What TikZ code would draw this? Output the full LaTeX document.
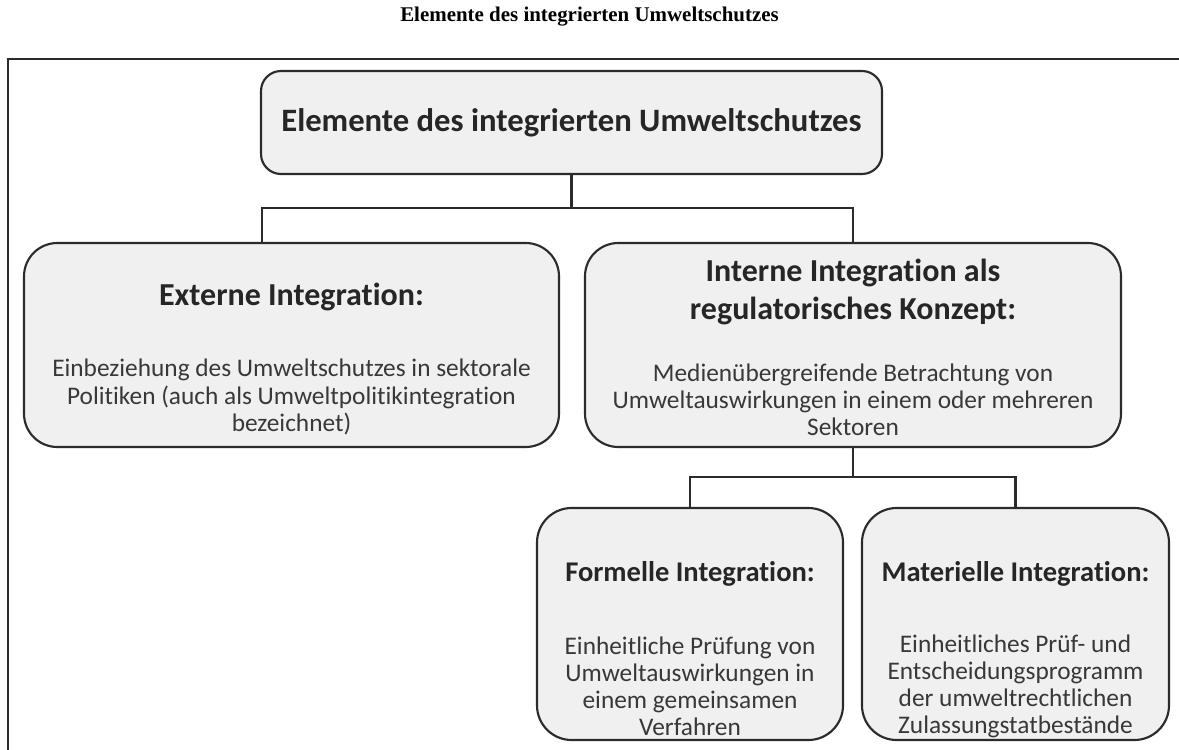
\documentclass[tikz,border=0pt]{standalone}
\usepackage{fontspec}
\setmainfont{Carlito}[Ligatures={NoCommon,NoRequired,NoContextual}]
\newfontfamily\timesfont{Liberation Serif}
\definecolor{boxfill}{HTML}{F0F0F0}
\definecolor{linecol}{HTML}{2B2B2B}
\definecolor{titlecol}{HTML}{262626}
\definecolor{bodycol}{HTML}{383838}
\tikzset{
  box/.style={draw=linecol, line width=1.6pt, fill=boxfill, rounded corners=#1, inner sep=0pt},
  conn/.style={draw=linecol, line width=1.6pt},
  frameline/.style={draw=linecol, line width=1.9pt},
  toptext/.style={text=titlecol, font=\fontsize{24.5pt}{29pt}\selectfont\bfseries, inner sep=0pt},
  ttl/.style={text=titlecol, font=\fontsize{24pt}{29pt}\selectfont\bfseries, align=center, inner sep=0pt},
  ttlsmall/.style={text=titlecol, font=\fontsize{21.4pt}{26pt}\selectfont\bfseries, align=center, inner sep=0pt},
  body/.style={text=bodycol, font=\fontsize{19pt}{20.3pt}\selectfont, align=center, inner sep=0pt},
}
\begin{document}
\begin{tikzpicture}[x=0.75pt,y=-0.75pt]
\useasboundingbox (0,0) rectangle (1179,750);

% page title
\node[text=black, font=\timesfont\fontsize{15.7pt}{18pt}\selectfont\bfseries, inner sep=0pt] (pagetitle) at (589.5,17) {Elemente des integrierten Umweltschutzes};

% frame
\coordinate (fbl) at (8,752);
\coordinate (ftl) at (8,59);
\coordinate (ftr) at (1181,59);
\draw[frameline] (fbl) -- (ftl) -- (ftr);

% boxes
\node[box=15pt, minimum width=465.75pt, minimum height=77.25pt] (top) at (571.5,122.5) {};
\node[box=25pt, minimum width=401.25pt, minimum height=153pt] (left) at (291.5,345) {};
\node[box=25pt, minimum width=402pt, minimum height=153pt] (right) at (853,345) {};
\node[box=26pt, minimum width=229.5pt, minimum height=174pt] (bl) at (690,624) {};
\node[box=26pt, minimum width=230.25pt, minimum height=174pt] (br) at (1015.5,624) {};

% texts
\node[toptext] (toptxt) at (571.5,123) {Elemente des integrierten Umweltschutzes};

\node[ttl] (lefttitle) at (291.5,297) {Externe Integration:};
\node[body] (leftbody) at (291.5,397) {Einbeziehung des Umweltschutzes in sektorale\\Politiken (auch als Umweltpolitikintegration\\bezeichnet)};

\node[ttl] (righttitle) at (853,292) {Interne Integration als\\regulatorisches Konzept:};
\node[body] (rightbody) at (853,400) {Medienübergreifende Betrachtung von\\Umweltauswirkungen in einem oder mehreren\\Sektoren};

\node[ttlsmall] (bltitle) at (690,574) {Formelle Integration:};
\node[body] (blbody) at (690,686) {Einheitliche Prüfung von\\Umweltauswirkungen in\\einem gemeinsamen\\Verfahren};

\node[ttlsmall] (brtitle) at (1015.5,574) {Materielle Integration:};
\node[body] (brbody) at (1015.5,686) {Einheitliches Prüf- und\\Entscheidungsprogramm\\der umweltrechtlichen\\Zulassungstatbestände};

% connectors
\coordinate (bus1) at (571.5,208);
\coordinate (leftin) at (262,243);
\draw[conn] (top.south) -- (bus1);
\draw[conn] (bus1) -| (leftin);
\draw[conn] (bus1) -| (right.north);

\coordinate (bus2) at (853,477);
\draw[conn] (right.south) -- (bus2);
\draw[conn] (bus2) -| (bl.north);
\draw[conn] (bus2) -| (br.north);
\end{tikzpicture}
\end{document}
